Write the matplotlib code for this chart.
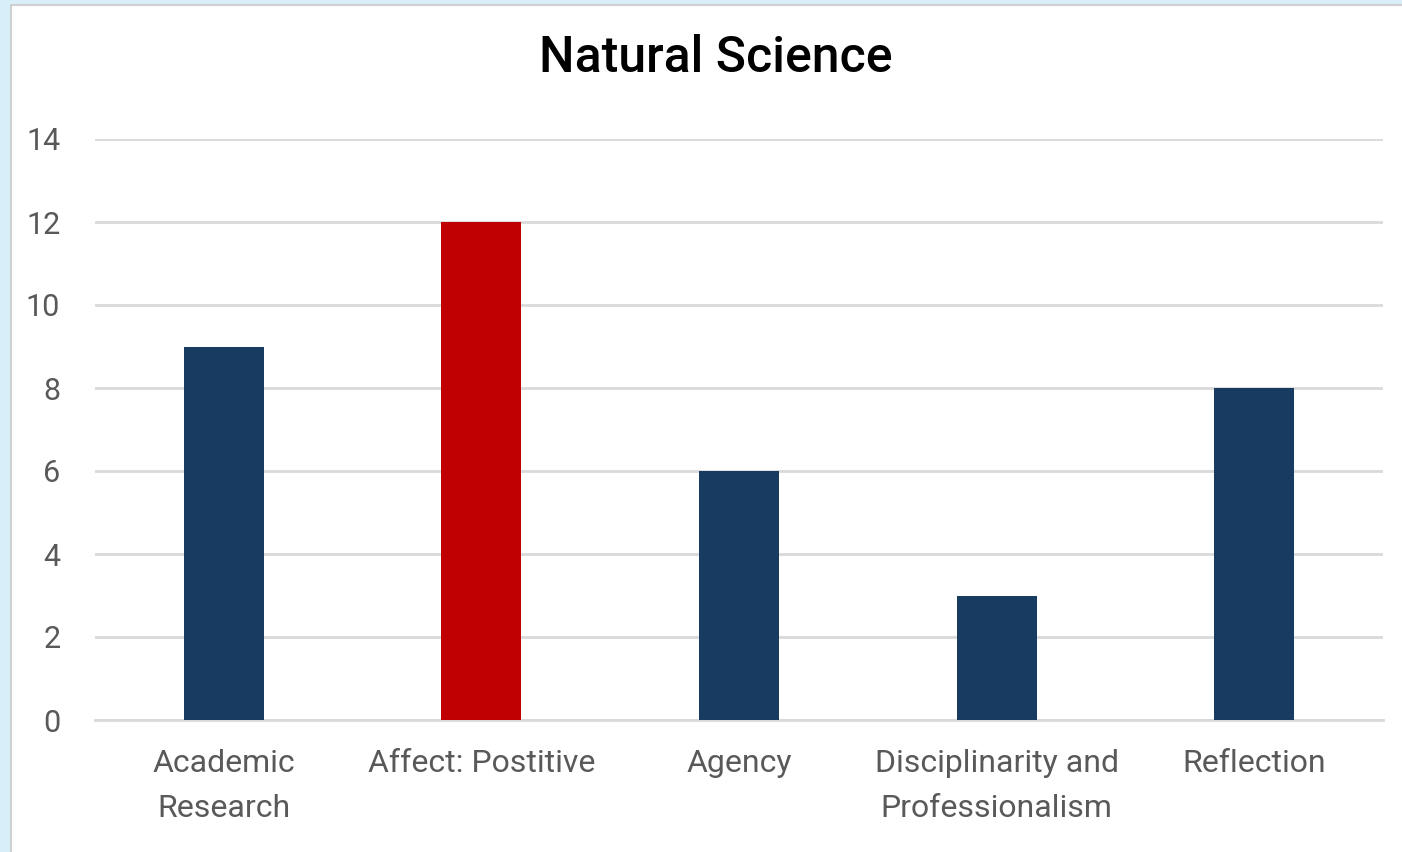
import numpy as np
import matplotlib.pyplot as plt
from matplotlib.patches import Rectangle

categories = ['Academic\nResearch', 'Affect: Postitive', 'Agency',
              'Disciplinarity and\nProfessionalism', 'Reflection']
values = [9, 12, 6, 3, 8]
bar_colors = ['#173B61', '#C00000', '#173B61', '#173B61', '#173B61']
yticks = [0, 2, 4, 6, 8, 10, 12, 14]

plt.rcParams['font.family'] = ['Roboto', 'DejaVu Sans']

fig = plt.figure(figsize=(14.02, 8.52), dpi=100)
fig.patch.set_facecolor('#D8EFF9')
# white chart panel with thin gray border, behind the axes
fig.patches.append(Rectangle((11 / 1402, -0.01), 1.0, 1 - 5 / 852 + 0.01,
                             transform=fig.transFigure, facecolor='white',
                             edgecolor='#D0D0D0', linewidth=1.5, zorder=-1))

ax = fig.add_axes([95 / 1402, 1 - 720 / 852, 1288 / 1402, (720 - 139) / 852])
ax.set_facecolor('none')

x = np.arange(len(categories))
ax.bar(x, values, width=0.31, color=bar_colors, zorder=3)

ax.set_xlim(-0.5, len(categories) - 0.5)
ax.set_ylim(0, 14)
ax.set_yticks(yticks)
ax.set_xticks(x)
ax.set_xticklabels(categories, fontsize=23, color='#595959', linespacing=1.7)
ax.tick_params(axis='y', labelsize=22, labelcolor='#595959', length=0, pad=25)
ax.tick_params(axis='x', length=0, pad=21)
ax.yaxis.grid(True, color='#D9D9D9', linewidth=2)
ax.set_axisbelow(True)
for s in ['top', 'right', 'left']:
    ax.spines[s].set_visible(False)
ax.spines['bottom'].set_color('#D9D9D9')
ax.spines['bottom'].set_linewidth(2)

fig.text(716 / 1402, 1 - 58 / 852, 'Natural Science', fontsize=36,
         fontweight='medium', ha='center', va='center', color='black')

fig.savefig('out.png', dpi=100, facecolor=fig.get_facecolor())
